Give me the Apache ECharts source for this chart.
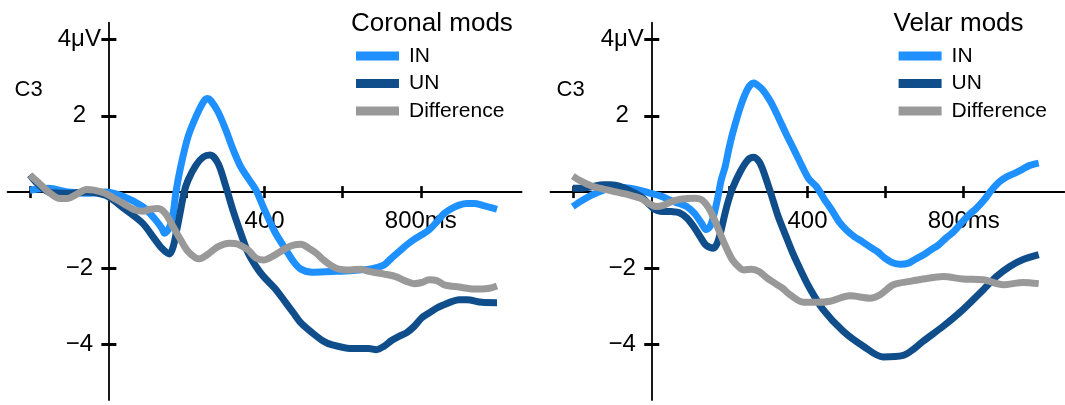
<!DOCTYPE html>
<html><head><meta charset="utf-8">
<script src="https://cdn.jsdelivr.net/npm/echarts@6/dist/echarts.min.js"></script>
<style>html,body{margin:0;padding:0;background:#fff}#c{width:1065px;height:405px}</style>
</head><body><div id="c"></div>
<script>
// ---- data (time in ms, amplitude in µV) ----
const coronalIN_t = [-201,-153,-104,-56,-8,40,88,117,137,144,156,166,173,185,204,224,243,254,262,281,301,320,339,358,378,397,426,455,474,493,522,571,619,667,686,706,725,744,763,783,802,821,841,860,879,898,918,937,956,995];
const coronalIN_v = [0.05,0.1,0.0,-0.03,0,-0.12,-0.38,-0.68,-0.95,-1.08,-0.94,-0.55,0,0.66,1.45,1.97,2.36,2.45,2.4,2.1,1.62,1.1,0.66,0.36,0.05,-0.4,-1.04,-1.52,-1.82,-2.02,-2.1,-2.08,-2.06,-2.02,-1.98,-1.91,-1.73,-1.56,-1.39,-1.24,-1.12,-0.99,-0.78,-0.56,-0.43,-0.34,-0.3,-0.3,-0.34,-0.45];

const coronalUN_t = [-201,-181,-153,-104,-56,-8,11,40,88,117,137,157,166,175,185,194,204,224,243,261,281,301,320,339,358,378,397,426,455,474,493,522,551,571,619,667,686,706,725,744,763,783,802,821,841,860,879,898,918,956,995];
const coronalUN_v = [0.45,0.22,0.0,-0.03,0.0,-0.08,-0.2,-0.43,-0.82,-1.21,-1.47,-1.62,-1.43,-1.0,-0.47,0,0.31,0.7,0.92,0.97,0.75,0.14,-0.51,-1.08,-1.6,-1.95,-2.21,-2.52,-2.91,-3.17,-3.43,-3.69,-3.91,-4.0,-4.1,-4.1,-4.13,-4.04,-3.89,-3.78,-3.69,-3.52,-3.3,-3.17,-3.04,-2.95,-2.87,-2.82,-2.82,-2.89,-2.9];

const coronalDiff_t = [-201,-181,-153,-124,-104,-85,-56,-37,-8,11,40,69,88,108,127,146,166,185,204,224,233,252,281,310,330,358,378,397,426,455,474,493,513,532,551,571,590,619,648,667,706,734,763,783,802,821,841,860,898,937,956,976,995];
const coronalDiff_v = [0.44,0.27,0.0,-0.17,-0.17,-0.08,0.07,0.05,-0.03,-0.14,-0.31,-0.47,-0.5,-0.45,-0.43,-0.56,-0.91,-1.25,-1.56,-1.73,-1.75,-1.65,-1.43,-1.34,-1.36,-1.52,-1.73,-1.78,-1.65,-1.47,-1.39,-1.37,-1.47,-1.6,-1.78,-1.93,-2.02,-2.04,-2.02,-2.08,-2.15,-2.21,-2.34,-2.4,-2.37,-2.3,-2.32,-2.43,-2.49,-2.54,-2.54,-2.52,-2.46];

const velarIN_t = [-201,-182,-153,-123,-104,-75,-55,-26,-6,23,52,72,91,111,130,140,150,159,169,179,189,198,208,228,247,262,267,286,306,325,345,364,384,403,423,442,462,481,501,520,540,559,579,598,618,637,657,676,696,715,735,754,774,793,813,832,852,871,891,910,930,949,969,992];
const velarIN_v = [-0.38,-0.25,-0.08,0.05,0.12,0.12,0.1,0.04,-0.02,-0.1,-0.23,-0.3,-0.38,-0.56,-0.84,-0.98,-0.91,-0.65,-0.21,0.31,0.66,1.1,1.53,2.23,2.71,2.86,2.84,2.67,2.36,1.97,1.53,1.14,0.72,0.35,0.14,-0.17,-0.47,-0.78,-1.01,-1.17,-1.3,-1.43,-1.56,-1.73,-1.85,-1.89,-1.87,-1.76,-1.65,-1.52,-1.39,-1.21,-1.04,-0.82,-0.6,-0.43,-0.21,0.05,0.27,0.4,0.49,0.59,0.7,0.76];

const velarUN_t = [-201,-182,-153,-123,-104,-75,-55,-26,-6,8,23,52,72,91,111,130,140,159,169,179,189,198,208,228,247,262,276,286,306,325,345,364,384,403,440,492,543,593,645,670,696,747,798,850,884,918,952,992];
const velarUN_v = [0.1,0.1,0.14,0.19,0.19,0.13,0.04,-0.12,-0.32,-0.45,-0.5,-0.51,-0.54,-0.68,-0.94,-1.25,-1.39,-1.47,-1.34,-0.99,-0.55,-0.21,0.1,0.54,0.84,0.91,0.8,0.58,-0.03,-0.64,-1.16,-1.64,-2.08,-2.47,-3.08,-3.65,-4.04,-4.32,-4.28,-4.13,-3.91,-3.52,-3.08,-2.56,-2.21,-1.95,-1.77,-1.64];

const velarDiff_t = [-201,-182,-153,-123,-104,-75,-55,-26,-6,13,33,52,72,91,111,130,150,169,189,208,228,237,257,276,296,315,335,355,390,424,458,509,560,586,620,663,696,747,798,850,901,952,992];
const velarDiff_v = [0.42,0.3,0.16,0.08,0.04,-0.03,-0.08,-0.17,-0.3,-0.38,-0.34,-0.25,-0.19,-0.17,-0.16,-0.21,-0.47,-0.9,-1.39,-1.78,-2.0,-2.04,-2.02,-2.08,-2.25,-2.38,-2.51,-2.69,-2.89,-2.89,-2.86,-2.72,-2.78,-2.69,-2.43,-2.34,-2.28,-2.21,-2.28,-2.3,-2.43,-2.37,-2.4];

const xTickValues = [-200, 200, 400, 600, 800];
const xLabelValues = [400, 800];
const yTickValues = [-4, -2, 2, 4];
const seriesNames = ['IN', 'UN', 'Difference'];
const panelTitles = ['Coronal mods', 'Velar mods'];
const channelLabel = 'C3';

// ---- styling ----
const FONT = '"Liberation Sans", Arial, Helvetica, sans-serif';
const COLORS = {IN: '#1E90FF', UN: '#104E8B', Difference: '#999999'};
const X_MIN = -258, X_MAX = 1058, Y_MIN = -5.45, Y_MAX = 4.44;
const grids = [
  {left: 7.6, top: 22.7, width: 514, height: 377.3, outerBoundsMode: 'none'},
  {left: 550.5, top: 22.7, width: 514, height: 377.3, outerBoundsMode: 'none'}
];

function pairs(t, v) { return t.map((x, i) => [x, v[i]]); }

const xAxis = [], yAxis = [], series = [];
grids.forEach((g, gi) => {
  // axes cross at (0 ms, 0 µV): shift them inward from the grid edges
  const yAxisShift = (0 - X_MIN) / (X_MAX - X_MIN) * g.width;
  const xAxisShift = (0 - Y_MIN) / (Y_MAX - Y_MIN) * g.height;
  const baseX = {
    type: 'value', gridIndex: gi, min: X_MIN, max: X_MAX, position: 'bottom', offset: -xAxisShift,
    axisLine: {show: true, onZero: false, lineStyle: {color: '#000', width: 1.8}},
    splitLine: {show: false}
  };
  xAxis.push(Object.assign({}, baseX, {
    axisTick: {show: true, customValues: xTickValues, length: 6, inside: false, lineStyle: {color: '#000', width: 2.6}},
    axisLabel: {show: true, customValues: xLabelValues, margin: 29, verticalAlign: 'middle',
      color: '#000', fontSize: 24, fontFamily: FONT,
      formatter: v => v === 800 ? '800ms' : String(v)}
  }));
  xAxis.push(Object.assign({}, baseX, {
    axisLine: {show: false, onZero: false},
    axisTick: {show: true, customValues: xTickValues, length: 6, inside: true, lineStyle: {color: '#000', width: 2.6}},
    axisLabel: {show: false}
  }));
  const baseY = {
    type: 'value', gridIndex: gi, min: Y_MIN, max: Y_MAX, position: 'left', offset: -yAxisShift,
    axisLine: {show: true, onZero: false, lineStyle: {color: '#000', width: 1.8}},
    splitLine: {show: false}
  };
  yAxis.push(Object.assign({}, baseY, {
    axisTick: {show: true, customValues: yTickValues, length: 7, inside: false, lineStyle: {color: '#000', width: 3}},
    axisLabel: {show: true, customValues: yTickValues, margin: 29, align: 'center', verticalAlign: 'middle',
      color: '#000', fontSize: 24, fontFamily: FONT,
      formatter: v => v === 4 ? '4\u03bcV' : (v < 0 ? '\u2212' + Math.abs(v) : String(v))}
  }));
  yAxis.push(Object.assign({}, baseY, {
    axisLine: {show: false, onZero: false},
    axisTick: {show: true, customValues: yTickValues, length: 8, inside: true, lineStyle: {color: '#000', width: 3}},
    axisLabel: {show: false}
  }));
});

const panelData = [
  {IN: pairs(coronalIN_t, coronalIN_v), UN: pairs(coronalUN_t, coronalUN_v), Difference: pairs(coronalDiff_t, coronalDiff_v)},
  {IN: pairs(velarIN_t, velarIN_v), UN: pairs(velarUN_t, velarUN_v), Difference: pairs(velarDiff_t, velarDiff_v)}
];
panelData.forEach((pd, gi) => {
  seriesNames.forEach((name, si) => {
    series.push({
      name: name, type: 'line', xAxisIndex: gi * 2, yAxisIndex: gi * 2,
      data: pd[name], showSymbol: false, symbol: 'none', smooth: 0.3,
      color: COLORS[name], itemStyle: {color: COLORS[name]},
      lineStyle: {color: COLORS[name], width: 7, join: 'round', cap: 'butt'},
      z: 2 + si, silent: true
    });
  });
});

const legendBase = {
  data: seriesNames, orient: 'vertical', top: 45, padding: 0,
  itemWidth: 43, itemHeight: 9, itemGap: 5.5, icon: 'rect', selectedMode: false,
  textStyle: {color: '#000', fontSize: 21, lineHeight: 22, fontFamily: FONT, padding: [0, 0, 0, 5]}
};
const titleText = {color: '#000', fontWeight: 'normal', fontFamily: FONT};
const option = {
  animation: false,
  backgroundColor: '#fff',
  title: [
    {text: panelTitles[0], left: 351, top: 11, padding: 0, textStyle: Object.assign({fontSize: 26}, titleText)},
    {text: panelTitles[1], left: 893.5, top: 11, padding: 0, textStyle: Object.assign({fontSize: 26}, titleText)},
    {text: channelLabel, left: 14.5, top: 79, padding: 0, textStyle: Object.assign({fontSize: 22}, titleText)},
    {text: channelLabel, left: 556.6, top: 79, padding: 0, textStyle: Object.assign({fontSize: 22}, titleText)}
  ],
  legend: [
    Object.assign({left: 356}, legendBase),
    Object.assign({left: 898.6}, legendBase)
  ],
  grid: grids,
  xAxis: xAxis,
  yAxis: yAxis,
  series: series
};
const chart = echarts.init(document.getElementById('c'));
chart.setOption(option);
</script>
</body></html>
